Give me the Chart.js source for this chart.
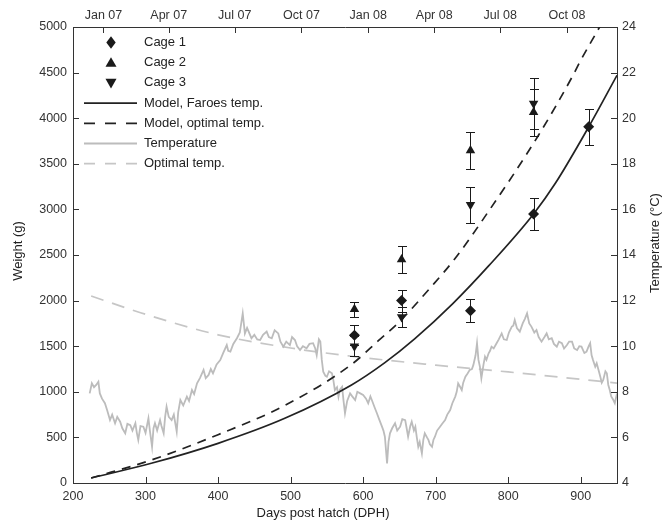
<!DOCTYPE html>
<html>
<head>
<meta charset="utf-8">
<script src="https://cdn.jsdelivr.net/npm/chart.js@4"></script>
<style>
  html, body { margin: 0; padding: 0; background: #fff; }
  #chart { display: block; }
</style>
</head>
<body>
<canvas id="chart" width="672" height="525"></canvas>
<script>
'use strict';

// axis ticks
const dphTicks = [200, 300, 400, 500, 600, 700, 800, 900];
const weightTicks = [0, 500, 1000, 1500, 2000, 2500, 3000, 3500, 4000, 4500, 5000];
const tempTicks = [4, 6, 8, 10, 12, 14, 16, 18, 20, 22, 24];
const monthTickDph = [242, 332, 423, 515, 607, 698, 789, 881];
const monthLabels = ['Jan 07', 'Apr 07', 'Jul 07', 'Oct 07', 'Jan 08', 'Apr 08', 'Jul 08', 'Oct 08'];

// cage measurements (weight g, +/- error)
const cage1Dph = [588, 653, 748, 835, 911];
const cage1Weight = [1620, 2000, 1890, 2950, 3905];
const cage1Err = [110, 120, 130, 180, 200];
const cage2Dph = [588, 653, 748, 835];
const cage2Weight = [1905, 2450, 3645, 4065];
const cage2Err = [80, 150, 200, 255];
const cage3Dph = [588, 653, 748, 835];
const cage3Weight = [1500, 1820, 3050, 4160];
const cage3Err = [110, 110, 200, 280];

// growth models
const faroesDph = [225, 308, 400, 492, 584, 630, 671, 724, 773, 835, 865, 911, 950];
const faroesWeight = [55, 216, 435, 709, 1075, 1320, 1580, 1970, 2380, 2950, 3286, 3905, 4470];
const optimalDph = [225, 308, 400, 492, 584, 621, 650, 694, 727, 773, 842, 890, 899, 926, 940];
const optimalWeight = [55, 252, 530, 850, 1300, 1560, 1769, 2153, 2464, 2980, 3816, 4480, 4620, 5000, 5200];

// temperatures (°C)
const optTempDph = [225, 300, 400, 500, 600, 700, 800, 900, 950];
const optTempValue = [12.2, 11.4, 10.5, 9.92, 9.5, 9.17, 8.87, 8.55, 8.38];

const tempDph = [223, 226, 229, 232, 235, 237, 240, 244, 247, 251, 254, 258, 261, 265, 268, 272, 275, 279,
  282, 286, 288, 290, 293, 297, 300, 304, 306, 309, 311, 313, 316, 320, 322, 325, 327, 329, 332, 336, 339,
  343, 345, 348, 352, 357, 360, 364, 367, 371, 375, 380, 383, 387, 390, 393, 398, 403, 407, 412, 414, 417,
  421, 426, 430, 434, 437, 440, 446, 450, 454, 458, 462, 467, 470, 474, 478, 483, 486, 490, 494, 499, 502,
  506, 509, 513, 517, 522, 526, 531, 534, 536, 539, 541, 543, 545, 548, 550, 553, 557, 559, 561, 564, 566,
  568, 571, 573, 575, 578, 582, 585, 589, 592, 596, 600, 604, 607, 610, 612, 616, 619, 622, 626, 628, 630,
  633, 635, 637, 640, 644, 647, 651, 654, 658, 660, 662, 665, 667, 670, 672, 674, 676, 678, 681, 683, 685,
  688, 690, 692, 695, 697, 699, 702, 706, 709, 713, 716, 720, 723, 727, 729, 731, 734, 736, 738, 741, 744,
  747, 750, 752, 755, 757, 759, 761, 763, 766, 768, 770, 773, 775, 777, 780, 784, 787, 791, 794, 798, 801,
  805, 807, 809, 812, 816, 820, 823, 826, 829, 832, 836, 839, 842, 846, 850, 853, 856, 860, 863, 867, 870,
  874, 877, 881, 884, 888, 891, 895, 898, 901, 905, 908, 911, 913, 915, 917, 920, 922, 925, 927, 929, 931,
  934, 936, 938, 940, 942, 945, 947, 950];
const tempValue = [7.93, 8.37, 8.2, 8.3, 8.44, 7.93, 7.7, 7.5, 7.2, 6.76, 7.0, 6.62, 6.9, 6.69, 6.4, 6.18, 6.6, 6.54,
  6.3, 6.62, 6.2, 5.89, 6.5, 6.47, 6.2, 6.84, 6.3, 5.59, 6.4, 6.62, 6.3, 6.76, 6.5, 6.18, 6.9, 7.35, 6.9, 6.76, 7.0,
  6.25, 7.1, 7.64, 7.4, 7.79, 7.6, 8.08, 7.9, 8.37, 8.6, 8.96, 8.6, 8.74, 9.0, 8.81, 9.2, 9.39, 9.7, 10.05, 9.8, 9.76,
  10.1, 10.35, 10.6, 11.44, 10.56, 10.8, 10.35, 10.5, 10.3, 10.27, 10.5, 10.64, 10.4, 10.35, 10.7, 10.56, 10.2, 9.98, 10.2, 10.05, 10.4,
  10.27, 10.0, 9.83, 10.0, 9.91, 10.1, 10.13, 9.9, 9.61, 10.3, 10.2, 9.4, 8.88, 8.7, 8.66, 8.9, 8.81, 8.5, 8.08, 8.2, 7.79,
  8.1, 8.22, 7.6, 7.06, 7.6, 7.93, 7.8, 7.64, 8.0, 7.93, 7.86, 7.7, 7.5, 7.8, 7.64, 7.3, 7.06, 6.8, 6.47, 6.3, 6.03,
  4.86, 5.8, 6.18, 6.4, 6.62, 6.3, 6.47, 6.8, 6.76, 6.4, 6.03, 6.5, 6.69, 6.3, 6.47, 6.0, 5.59, 5.8, 5.3, 5.9, 6.18,
  6.0, 5.89, 5.7, 5.59, 5.9, 6.03, 6.3, 6.47, 6.6, 6.76, 7.0, 7.2, 7.5, 7.79, 8.0, 8.37, 8.2, 8.08, 8.4, 8.66, 8.8,
  8.96, 9.0, 9.18, 9.6, 10.13, 9.4, 9.1, 8.59, 9.2, 9.54, 9.4, 9.69, 9.8, 9.98, 9.9, 10.13, 10.3, 10.56, 10.3, 10.27, 10.6,
  10.86, 10.9, 11.15, 10.8, 10.64, 11.0, 11.2, 11.44, 11.0, 10.86, 10.6, 10.71, 10.4, 10.2, 10.4, 10.56, 10.3, 10.35, 10.1, 9.98, 10.2,
  10.13, 9.9, 10.05, 10.2, 10.2, 9.9, 9.83, 10.0, 9.98, 9.7, 9.76, 10.0, 10.13, 9.6, 9.39, 9.1, 9.25, 8.9, 8.66, 8.4, 8.52,
  8.9, 8.81, 8.3, 8.08, 7.8, 7.64, 7.5, 7.93];

const FONT = "'Liberation Sans', Arial, sans-serif";
const INK = '#1a1a1a';

function pts(xs, ys) {
  return xs.map((x, i) => ({ x: x, y: ys[i] }));
}

const overlay = {
  id: 'overlay',
  afterDatasetsDraw(chart) {
    const ctx = chart.ctx;
    const xs = chart.scales.x, ys = chart.scales.y;
    ctx.save();
    ctx.strokeStyle = INK;
    ctx.lineWidth = 1;
    chart.data.datasets.forEach(ds => {
      if (!ds.errors) return;
      ds.data.forEach((p, i) => {
        const px = Math.round(xs.getPixelForValue(p.x)) + 0.5;
        const top = Math.round(ys.getPixelForValue(p.y + ds.errors[i])) + 0.5;
        const bot = Math.round(ys.getPixelForValue(p.y - ds.errors[i])) + 0.5;
        ctx.beginPath();
        ctx.moveTo(px, top); ctx.lineTo(px, bot);
        ctx.moveTo(px - 4.5, top); ctx.lineTo(px + 4.5, top);
        ctx.moveTo(px - 4.5, bot); ctx.lineTo(px + 4.5, bot);
        ctx.stroke();
      });
    });
    ctx.restore();
  },
  afterDraw(chart) {
    const ctx = chart.ctx;
    const a = chart.chartArea;
    const s = chart.scales;
    const len = 6;
    ctx.save();
    // inward tick marks
    ctx.strokeStyle = '#333';
    ctx.lineWidth = 1;
    ctx.beginPath();
    s.x.ticks.forEach(t => {
      const p = Math.round(s.x.getPixelForValue(t.value)) + 0.5;
      ctx.moveTo(p, a.bottom); ctx.lineTo(p, a.bottom - len);
    });
    s.x2.ticks.forEach(t => {
      const p = Math.round(s.x2.getPixelForValue(t.value)) + 0.5;
      ctx.moveTo(p, a.top); ctx.lineTo(p, a.top + len);
    });
    s.y.ticks.forEach(t => {
      const p = Math.round(s.y.getPixelForValue(t.value)) + 0.5;
      ctx.moveTo(a.left, p); ctx.lineTo(a.left + len, p);
    });
    s.y2.ticks.forEach(t => {
      const p = Math.round(s.y2.getPixelForValue(t.value)) + 0.5;
      ctx.moveTo(a.right, p); ctx.lineTo(a.right - len, p);
    });
    ctx.stroke();

    // axis titles
    ctx.fillStyle = '#222';
    ctx.font = '13px ' + FONT;
    ctx.textAlign = 'center';
    ctx.textBaseline = 'middle';
    ctx.fillText('Days post hatch (DPH)', 323, 513);
    ctx.save();
    ctx.translate(18, 251);
    ctx.rotate(-Math.PI / 2);
    ctx.fillText('Weight (g)', 0, 0);
    ctx.restore();
    ctx.save();
    ctx.translate(655, 243);
    ctx.rotate(-Math.PI / 2);
    ctx.fillText('Temperature (°C)', 0, 0);
    ctx.restore();

    // legend
    ctx.textAlign = 'left';
    chart.data.datasets.forEach((ds, i) => {
      const yy = 42.5 + i * 20.2;
      if (ds.showLine === false) {
        ctx.fillStyle = INK;
        drawMarker(ctx, ds.pointStyle, ds.pointRotation || 0, 111, yy, 5.5);
      } else {
        ctx.strokeStyle = ds.borderColor;
        ctx.lineWidth = ds.borderWidth;
        ctx.setLineDash(ds.borderDash ? [11, 10] : []);
        ctx.beginPath();
        ctx.moveTo(84, yy); ctx.lineTo(137, yy);
        ctx.stroke();
        ctx.setLineDash([]);
      }
      ctx.fillStyle = '#222';
      ctx.fillText(ds.label, 144, yy);
    });
    ctx.restore();
  }
};

function drawMarker(ctx, style, rot, x, y, r) {
  ctx.save();
  ctx.translate(x, y);
  ctx.rotate(rot * Math.PI / 180);
  ctx.beginPath();
  if (style === 'rectRot') {
    ctx.moveTo(0, -r * 1.15); ctx.lineTo(r * 0.85, 0); ctx.lineTo(0, r * 1.15); ctx.lineTo(-r * 0.85, 0);
  } else {
    ctx.moveTo(0, -r); ctx.lineTo(r, r * 0.75); ctx.lineTo(-r, r * 0.75);
  }
  ctx.closePath();
  ctx.fill();
  ctx.restore();
}

const tickFont = { family: FONT, size: 12.5 };
const plain = v => String(v);

new Chart(document.getElementById('chart'), {
  type: 'scatter',
  data: {
    datasets: [
      { label: 'Cage 1', data: pts(cage1Dph, cage1Weight), errors: cage1Err, showLine: false,
        pointStyle: 'rectRot', pointRadius: 5.5, backgroundColor: INK, borderColor: INK, borderWidth: 0, yAxisID: 'y' },
      { label: 'Cage 2', data: pts(cage2Dph, cage2Weight), errors: cage2Err, showLine: false,
        pointStyle: 'triangle', pointRadius: 5.5, backgroundColor: INK, borderColor: INK, borderWidth: 0, yAxisID: 'y' },
      { label: 'Cage 3', data: pts(cage3Dph, cage3Weight), errors: cage3Err, showLine: false,
        pointStyle: 'triangle', pointRotation: 180, pointRadius: 5.5, backgroundColor: INK, borderColor: INK, borderWidth: 0, yAxisID: 'y' },
      { label: 'Model, Faroes temp.', data: pts(faroesDph, faroesWeight), showLine: true, pointRadius: 0,
        borderColor: '#222', borderWidth: 1.7, cubicInterpolationMode: 'monotone', yAxisID: 'y' },
      { label: 'Model, optimal temp.', data: pts(optimalDph, optimalWeight), showLine: true, pointRadius: 0,
        borderColor: '#222', borderWidth: 1.7, borderDash: [9, 7], cubicInterpolationMode: 'monotone', yAxisID: 'y' },
      { label: 'Temperature', data: pts(tempDph, tempValue), showLine: true, pointRadius: 0,
        borderColor: '#bcbcbc', borderWidth: 1.8, yAxisID: 'y2' },
      { label: 'Optimal temp.', data: pts(optTempDph, optTempValue), showLine: true, pointRadius: 0,
        borderColor: '#c6c6c6', borderWidth: 1.7, borderDash: [13, 9], cubicInterpolationMode: 'monotone', yAxisID: 'y2' }
    ]
  },
  options: {
    responsive: false,
    animation: false,
    devicePixelRatio: 1,
    layout: { padding: 0 },
    plugins: { legend: { display: false }, tooltip: { enabled: false } },
    scales: {
      x: {
        type: 'linear', position: 'bottom', min: 200, max: 950,
        afterBuildTicks: sc => { sc.ticks = dphTicks.map(v => ({ value: v })); },
        afterFit: sc => { sc.height = 42; },
        grid: { display: false, drawTicks: false },
        border: { display: true, color: '#333', width: 1 },
        ticks: { font: tickFont, color: '#333', padding: 6, maxRotation: 0, autoSkip: false, callback: plain }
      },
      x2: {
        type: 'linear', position: 'top', min: 200, max: 950,
        afterBuildTicks: sc => { sc.ticks = monthTickDph.map(v => ({ value: v })); },
        afterFit: sc => { sc.height = 27; },
        grid: { display: false, drawTicks: false },
        border: { display: true, color: '#333', width: 1 },
        ticks: { font: tickFont, color: '#333', padding: 4, maxRotation: 0, autoSkip: false,
          callback: v => monthLabels[monthTickDph.indexOf(v)] }
      },
      y: {
        type: 'linear', position: 'left', min: 0, max: 5000,
        afterBuildTicks: sc => { sc.ticks = weightTicks.map(v => ({ value: v })); },
        afterFit: sc => { sc.width = 73; },
        grid: { display: false, drawTicks: false },
        border: { display: true, color: '#333', width: 1 },
        ticks: { font: tickFont, color: '#333', padding: 6, autoSkip: false, callback: plain }
      },
      y2: {
        type: 'linear', position: 'right', min: 4, max: 24,
        afterBuildTicks: sc => { sc.ticks = tempTicks.map(v => ({ value: v })); },
        afterFit: sc => { sc.width = 55; },
        grid: { display: false, drawTicks: false },
        border: { display: true, color: '#333', width: 1 },
        ticks: { font: tickFont, color: '#333', padding: 5, autoSkip: false, callback: plain }
      }
    }
  },
  plugins: [overlay]
});
</script>
</body>
</html>
